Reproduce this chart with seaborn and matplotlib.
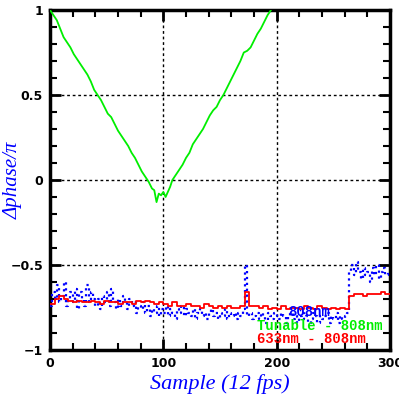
import numpy as np
import pandas as pd
import seaborn as sns
import matplotlib
matplotlib.use("Agg")
import matplotlib.pyplot as plt
from matplotlib.ticker import MultipleLocator

# green: tunable - 808nm
green_x = [0, 3, 6, 9, 12, 15, 18, 21, 24, 27, 30, 33, 36, 39, 42, 45, 48, 51, 54, 57,
           60, 63, 66, 69, 72, 75, 78, 81, 84, 87, 90, 92, 94, 96, 98, 100, 102, 104, 106, 108,
           111, 114, 117, 120, 123, 126, 129, 132, 135, 138, 141, 144, 147, 150, 153, 156, 159,
           162, 165, 168, 171, 174, 177, 180, 183, 186, 189, 192, 195]
green_y = [1.00, 0.97, 0.94, 0.89, 0.84, 0.81, 0.78, 0.74, 0.71, 0.68, 0.65, 0.62, 0.58, 0.53,
           0.50, 0.47, 0.43, 0.39, 0.37, 0.33, 0.29, 0.26, 0.23, 0.20, 0.16, 0.13, 0.09, 0.05,
           0.02, -0.01, -0.05, -0.06, -0.13, -0.08, -0.09, -0.07, -0.10, -0.07, -0.04, 0.00,
           0.03, 0.06, 0.09, 0.13, 0.16, 0.21, 0.24, 0.27, 0.30, 0.34, 0.38, 0.41, 0.43, 0.47,
           0.50, 0.54, 0.58, 0.62, 0.66, 0.70, 0.75, 0.76, 0.78, 0.82, 0.86, 0.89, 0.93, 0.97, 1.00]

# red: 633nm - 808nm, every 4 samples
red_x = list(range(0, 301, 4))
red_y = [-0.73, -0.70, -0.68, -0.70, -0.71, -0.72, -0.71, -0.72, -0.72, -0.71,
         -0.72, -0.73, -0.71, -0.72, -0.72, -0.73, -0.72, -0.72, -0.73, -0.71,
         -0.72, -0.71, -0.72, -0.73, -0.72, -0.73, -0.74, -0.72, -0.74, -0.74,
         -0.73, -0.74, -0.74, -0.75, -0.73, -0.74, -0.75, -0.74, -0.75, -0.74,
         -0.75, -0.75, -0.74, -0.66, -0.74, -0.74, -0.75, -0.74, -0.76, -0.75,
         -0.76, -0.74, -0.76, -0.75, -0.75, -0.76, -0.74, -0.75, -0.76, -0.74,
         -0.75, -0.76, -0.75, -0.76, -0.75, -0.76, -0.68, -0.67, -0.67, -0.68,
         -0.67, -0.67, -0.67, -0.66, -0.67, -0.67]

# blue: 808nm, every 2 samples
blue_x = list(range(0, 300, 2))
blue_y = [-0.74, -0.66, -0.70, -0.62, -0.72, -0.68, -0.60, -0.74, -0.70, -0.66,
          -0.72, -0.64, -0.76, -0.66, -0.70, -0.74, -0.62, -0.72, -0.66, -0.70,
          -0.74, -0.70, -0.76, -0.68, -0.72, -0.66, -0.74, -0.64, -0.72, -0.76,
          -0.70, -0.74, -0.68, -0.72, -0.76, -0.70, -0.74, -0.72, -0.78, -0.74,
          -0.76, -0.72, -0.78, -0.74, -0.80, -0.76, -0.78, -0.74, -0.80, -0.76,
          -0.78, -0.74, -0.80, -0.76, -0.78, -0.82, -0.76, -0.78, -0.74, -0.80,
          -0.76, -0.78, -0.80, -0.76, -0.82, -0.78, -0.76, -0.80, -0.78, -0.82,
          -0.78, -0.76, -0.80, -0.78, -0.82, -0.78, -0.80, -0.76, -0.82, -0.78,
          -0.80, -0.78, -0.82, -0.78, -0.80, -0.76, -0.50, -0.80, -0.78, -0.82,
          -0.80, -0.78, -0.82, -0.78, -0.80, -0.84, -0.78, -0.80, -0.82, -0.78,
          -0.80, -0.82, -0.78, -0.80, -0.84, -0.80, -0.78, -0.82, -0.80, -0.84,
          -0.80, -0.78, -0.82, -0.80, -0.84, -0.82, -0.78, -0.80, -0.84, -0.80,
          -0.82, -0.80, -0.78, -0.84, -0.80, -0.82, -0.78, -0.84, -0.80, -0.82,
          -0.80, -0.78, -0.54, -0.50, -0.56, -0.48, -0.54, -0.58, -0.52, -0.56,
          -0.54, -0.60, -0.52, -0.56, -0.50, -0.58, -0.54, -0.52, -0.56, -0.54]

sns.set_style("ticks")
plt.rcParams["font.family"] = ["DejaVu Sans"]

fig = plt.figure(figsize=(3.99, 3.99), dpi=100)
ax = fig.add_axes([50 / 399, 49 / 399, 340 / 399, 340 / 399])

sns.lineplot(x=blue_x, y=blue_y, ax=ax, color="#0000ff", linestyle=":", linewidth=1.6,
             drawstyle="steps-post", zorder=3)
sns.lineplot(x=red_x, y=red_y, ax=ax, color="#ff0000", linewidth=1.3,
             drawstyle="steps-post", zorder=4)
sns.lineplot(x=green_x, y=green_y, ax=ax, color="#00ee00", linewidth=1.3, zorder=4)

ax.set_xlim(0, 300)
ax.set_ylim(-1, 1)
ax.xaxis.set_major_locator(MultipleLocator(100))
ax.xaxis.set_minor_locator(MultipleLocator(20))
ax.yaxis.set_major_locator(MultipleLocator(0.5))
ax.yaxis.set_minor_locator(MultipleLocator(0.1))
ax.set_xticks([0, 100, 200, 300])
ax.set_xticklabels(["0", "100", "200", "300"])
ax.set_yticks([-1, -0.5, 0, 0.5, 1])
ax.set_yticklabels(["\u22121", "\u22120.5", "0", "0.5", "1"])
ax.tick_params(which="both", direction="in", top=True, right=True, colors="black")
ax.tick_params(which="major", length=8, width=2, labelsize=9, pad=5)
ax.tick_params(which="minor", length=5, width=1.5)
for lab in ax.get_xticklabels() + ax.get_yticklabels():
    lab.set_fontweight("bold")
for s in ax.spines.values():
    s.set_linewidth(2.5)
    s.set_color("black")

for v in [100, 200]:
    ax.axvline(v, color="black", linestyle=(0, (2, 2)), linewidth=1, zorder=1)
for v in [-0.5, 0, 0.5]:
    ax.axhline(v, color="black", linestyle=(0, (2, 2)), linewidth=1, zorder=1)

ax.set_xlabel("Sample (12 fps)", color="#0000ff", fontsize=16, style="italic",
              family="Liberation Serif")
ax.set_ylabel("\u0394phase/\u03c0", color="#0000ff", fontsize=15, style="italic",
              family="Liberation Serif")
ax.xaxis.set_label_coords(0.5, -0.07)
ax.yaxis.set_label_coords(-0.08, 0.5)

ax.text(288 / 399, 1 - 312 / 399, "808nm", transform=fig.transFigure, color="#0000ff",
        family="Liberation Mono", fontweight="bold", fontsize=10, va="center", zorder=6)
ax.text(257 / 399, 1 - 326 / 399, "Tunable - 808nm", transform=fig.transFigure,
        color="#00ee00", family="Liberation Mono", fontweight="bold", fontsize=10,
        va="center", zorder=6)
ax.text(257 / 399, 1 - 339 / 399, "633nm - 808nm", transform=fig.transFigure,
        color="#ff0000", family="Liberation Mono", fontweight="bold", fontsize=10,
        va="center", zorder=6)

fig.savefig("out.png", dpi=100, facecolor="white")
